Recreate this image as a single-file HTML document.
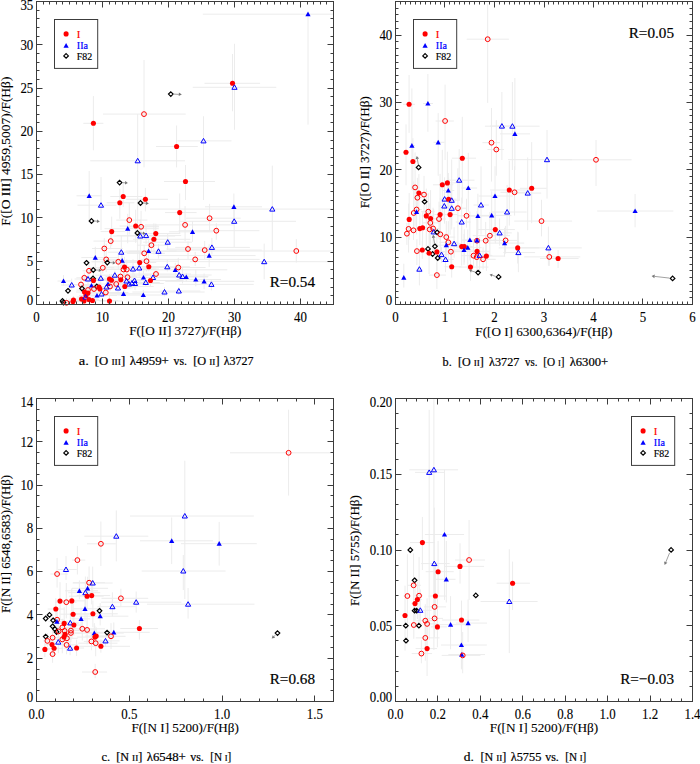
<!DOCTYPE html>
<html><head><meta charset="utf-8"><style>
html,body{margin:0;padding:0;background:#fff;}
body{width:700px;height:764px;overflow:hidden;}
svg{display:block;font-family:"Liberation Serif",serif;}
.tl{font-size:14px;fill:#000;stroke:#000;stroke-width:0.12px;}
.ti{font-size:13.3px;fill:#000;stroke:#000;stroke-width:0.12px;}
.rl{font-size:15.2px;fill:#000;stroke:#000;stroke-width:0.2px;}
.lg{font-size:10.8px;fill:#000;stroke:#000;stroke-width:0.2px;}
.cp{font-size:12px;fill:#000;stroke:#000;stroke-width:0.2px;}
</style></head><body>
<svg width="700" height="764" viewBox="0 0 700 764">
<rect width="700" height="764" fill="#fff"/>
<clipPath id="cpa"><rect x="36.5" y="1.5" width="297.0" height="303.0"/></clipPath>
<path clip-path="url(#cpa)" d="M202.8 14.2H333.0M308.0 14.0V124.7M204.5 83.3H260.1M232.5 54.0V111.3M192.7 87.3H276.3M234.5 43.8V129.8M103.0 114.1H185.7M144.0 60.0V167.4M83.3 123.3H103.4M93.4 96.1V150.3M156.0 146.5H197.8M176.6 125.5V167.4M177.5 140.9H231.5M203.5 116.3V200.0M90.2 160.8H185.0M137.7 114.0V262.0M164.0 181.5H215.0M185.5 165.0V200.0M76.5 195.8H101.5M89.2 171.0V220.0M110.3 196.5H142.3M123.2 182.9V206.9M126.1 199.3H168.0M145.4 187.9V211.4M106.6 202.8H134.4M119.8 188.7V218.8M77.5 205.2H116.5M101.0 177.0V230.0M205.0 206.8H262.0M233.9 193.5V222.0M150.0 209.1H333.0M272.3 165.6V250.3M165.0 212.6H196.6M179.7 193.4V233.9M186.1 218.2H240.7M209.6 203.9V230.8M116.2 220.1H147.4M129.3 202.9V234.5M180.0 221.3H296.0M234.2 204.6V247.0M145.0 224.9H234.0M185.1 206.1V241.2M119.6 226.0H158.7M135.7 209.7V242.9M128.5 226.8H159.0M141.1 210.8V243.7M104.5 228.7H158.8M127.7 213.8V243.3M100.6 231.6H125.1M111.7 216.6V245.6M178.6 230.7H259.4M216.3 223.3V239.8M169.1 231.8H213.0M192.5 221.0V241.9M113.2 236.0H175.1M140.3 219.6V254.4M116.6 235.6H181.2M146.1 226.7V244.0M137.5 233.6H180.2M155.8 223.6V241.9M133.1 239.3H190.2M153.9 223.3V254.4M93.5 241.1H137.0M110.7 231.8V249.3M136.9 245.2H167.6M151.4 237.8V251.6M143.2 242.2H191.9M167.7 233.8V250.0M175.2 247.4H249.9M211.9 237.9V254.4M166.4 249.0H208.0M188.0 241.4V259.2M92.0 248.5H122.8M104.3 238.1V257.7M168.6 250.1H261.8M204.7 241.0V259.1M200.0 251.0H333.0M296.3 239.1V262.5M125.8 251.0H176.7M148.6 239.9V261.2M129.1 251.3H188.1M158.5 244.0V258.6M107.8 252.2H141.9M121.3 235.9V266.9M126.8 253.3H164.9M144.2 245.1V261.6M157.4 255.6H255.6M209.2 244.3V266.9M81.3 257.6H117.6M95.3 246.8V269.4M140.6 259.4H259.7M195.2 251.8V266.0M97.4 259.4H120.5M106.2 243.6V272.1M109.4 260.7H145.6M122.2 251.4V268.7M91.4 261.8H144.0M118.3 252.7V270.1M190.0 261.7H333.0M264.2 243.6V279.3M123.9 262.5H156.2M139.7 251.9V270.1M125.2 261.2H179.0M146.5 250.0V271.4M127.7 266.7H171.3M148.8 260.0V271.3M107.6 267.0H146.9M124.5 256.8V277.1M112.9 269.5H139.6M123.5 261.7V276.7M102.4 269.5H155.9M126.8 259.3V279.4M110.8 269.0H159.0M133.0 259.3V278.1M120.7 268.0H156.1M139.2 259.4V276.9M150.3 266.8H189.8M167.3 259.8V271.4M136.2 269.8H227.3M175.3 262.8V278.4M148.9 267.5H205.6M178.3 257.8V276.5M89.9 267.8H114.2M102.8 261.3V273.4M82.6 270.8H95.3M89.0 261.7V278.5M94.9 275.2H148.0M114.8 270.6V279.0M105.5 276.5H137.3M120.5 265.1V285.6M124.6 274.0H191.0M156.0 270.3V278.8M141.9 275.0H211.7M179.2 266.5V281.5M159.2 276.5H208.4M182.5 267.7V283.4M169.0 277.0H208.0M186.3 272.9V281.5M76.3 277.8H92.3M84.3 272.4V282.1M74.6 279.0H108.1M88.0 273.9V285.2M82.5 280.5H107.7M93.5 272.3V288.8M88.5 278.2H114.6M100.8 269.9V284.5M100.2 279.0H120.0M109.5 274.0V285.2M92.2 280.3H135.2M111.5 273.9V285.3M101.2 279.8H142.0M120.8 273.3V287.7M112.5 277.2H146.6M127.5 272.1V281.1M132.3 277.5H181.5M153.0 273.8V280.7M125.2 277.5H168.6M143.5 270.8V283.7M112.9 280.5H183.5M150.5 274.3V286.0M176.5 279.5H221.1M195.8 269.3V286.4M165.2 281.3H254.2M204.1 273.5V289.2M57.5 281.0H70.8M63.5 275.0V285.7M61.1 285.0H85.4M71.7 278.6V289.5M68.5 284.5H97.4M81.0 279.0V291.2M81.6 285.5H101.2M91.5 281.1V289.9M92.0 284.0H129.0M108.0 278.1V289.4M105.1 284.0H127.6M116.2 279.6V287.0M114.6 281.0H141.4M126.5 275.2V286.7M107.7 284.0H148.8M129.0 278.2V289.2M119.3 283.0H145.2M132.0 276.6V288.5M109.2 280.5H170.7M134.5 273.6V284.9M106.4 283.5H163.8M135.0 275.0V290.1M133.5 282.5H159.8M145.8 278.4V286.5M179.3 284.4H253.7M211.4 279.8V290.3M83.8 287.0H117.7M99.0 279.8V292.6M90.1 289.0H111.8M100.0 283.9V292.7M88.1 286.5H132.9M110.0 282.4V291.2M83.5 287.0H136.5M106.5 280.1V293.7M107.2 288.0H131.1M118.0 282.6V292.2M100.4 286.5H153.7M124.8 281.4V291.6M76.1 292.0H94.1M84.5 288.1V295.5M80.6 293.0H100.1M88.0 286.6V297.7M79.2 295.5H93.2M86.0 293.1V297.7M76.5 290.0H102.0M88.0 283.2V295.7M81.7 289.0H104.7M94.0 285.3V292.5M81.3 295.5H117.3M97.0 292.3V299.1M86.3 294.0H126.3M101.5 289.7V297.3M87.5 292.5H128.4M105.8 288.3V296.5M109.4 293.8H142.2M123.5 290.3V296.7M117.6 295.0H167.7M143.3 289.8V298.7M132.4 292.0H204.7M164.5 287.2V296.4M159.8 291.0H200.4M178.8 287.2V295.0M68.0 300.0H79.7M73.5 296.0V303.1M66.3 301.5H80.0M73.0 297.7V304.5M69.5 299.0H98.4M81.5 296.3V301.2M76.1 301.0H96.5M84.0 296.6V304.5M76.8 297.0H93.9M85.5 293.4V301.1M80.8 299.5H98.9M89.0 295.6V303.4M77.3 300.5H118.2M92.5 297.9V302.7M99.1 301.0H122.1M109.5 295.4V304.5M60.2 302.8H72.1M66.5 298.0V304.5" stroke="#ececec" stroke-width="1" fill="none"/>
<path d="M305.4 16.3L310.6 16.3L308.0 11.6Z" fill="#00f"/>
<circle cx="232.5" cy="83.3" r="2.55" fill="#f00"/>
<path d="M231.9 89.3L237.1 89.3L234.5 84.8Z" fill="none" stroke="#00f" stroke-width="1"/>
<path d="M170.8 91.8L173.1 94.1L170.8 96.4L168.5 94.1Z" fill="none" stroke="#000" stroke-width="1.2"/><path d="M173.8 94.1L178.8 94.4" fill="none" stroke="#8a8a8a" stroke-width="0.8"/><path d="M178.9 92.6L181.8 94.5L178.7 96.1Z" fill="#777"/>
<circle cx="144.0" cy="114.1" r="2.4" fill="none" stroke="#f00" stroke-width="1"/>
<circle cx="93.4" cy="123.3" r="2.55" fill="#f00"/>
<circle cx="176.6" cy="146.5" r="2.55" fill="#f00"/>
<path d="M200.9 142.9L206.1 142.9L203.5 138.4Z" fill="none" stroke="#00f" stroke-width="1"/>
<path d="M135.1 162.8L140.3 162.8L137.7 158.3Z" fill="none" stroke="#00f" stroke-width="1"/>
<path d="M119.6 180.3L121.9 182.6L119.6 184.9L117.3 182.6Z" fill="none" stroke="#000" stroke-width="1.2"/><path d="M122.4 182.6L125.1 182.8" fill="none" stroke="#8a8a8a" stroke-width="0.8"/><path d="M125.2 181.1L127.9 183.0L125.0 184.5Z" fill="#777"/>
<circle cx="185.5" cy="181.5" r="2.55" fill="#f00"/>
<path d="M86.6 197.9L91.8 197.9L89.2 193.2Z" fill="#00f"/>
<circle cx="123.2" cy="196.5" r="2.55" fill="#f00"/>
<circle cx="145.4" cy="199.3" r="2.55" fill="#f00"/>
<circle cx="119.8" cy="202.8" r="2.55" fill="#f00"/>
<path d="M140.5 200.7L142.8 203.0L140.5 205.3L138.2 203.0Z" fill="none" stroke="#000" stroke-width="1.2"/><path d="M143.3 203.0L146.0 203.2" fill="none" stroke="#8a8a8a" stroke-width="0.8"/><path d="M146.1 201.5L148.8 203.4L145.9 204.9Z" fill="#777"/>
<path d="M98.4 207.2L103.6 207.2L101.0 202.7Z" fill="none" stroke="#00f" stroke-width="1"/>
<path d="M231.3 208.9L236.5 208.9L233.9 204.2Z" fill="#00f"/>
<path d="M269.7 211.1L274.9 211.1L272.3 206.6Z" fill="none" stroke="#00f" stroke-width="1"/>
<circle cx="179.7" cy="212.6" r="2.55" fill="#f00"/>
<circle cx="209.6" cy="218.2" r="2.4" fill="none" stroke="#f00" stroke-width="1"/>
<circle cx="129.3" cy="220.1" r="2.4" fill="none" stroke="#f00" stroke-width="1"/>
<path d="M91.5 218.7L93.8 221.0L91.5 223.3L89.2 221.0Z" fill="none" stroke="#000" stroke-width="1.2"/><path d="M94.3 221.0L97.0 221.2" fill="none" stroke="#8a8a8a" stroke-width="0.8"/><path d="M97.1 219.5L99.8 221.4L96.9 222.9Z" fill="#777"/>
<path d="M231.6 223.3L236.8 223.3L234.2 218.8Z" fill="none" stroke="#00f" stroke-width="1"/>
<circle cx="185.1" cy="224.9" r="2.4" fill="none" stroke="#f00" stroke-width="1"/>
<circle cx="135.7" cy="226.0" r="2.55" fill="#f00"/>
<circle cx="141.1" cy="226.8" r="2.4" fill="none" stroke="#f00" stroke-width="1"/>
<path d="M125.1 230.8L130.3 230.8L127.7 226.1Z" fill="#00f"/>
<circle cx="111.7" cy="231.6" r="2.55" fill="#f00"/>
<circle cx="216.3" cy="230.7" r="2.4" fill="none" stroke="#f00" stroke-width="1"/>
<path d="M189.9 233.9L195.1 233.9L192.5 229.2Z" fill="#00f"/>
<path d="M137.4 230.7L139.7 233.0L137.4 235.3L135.1 233.0Z" fill="none" stroke="#000" stroke-width="1.2"/><path d="M140.2 233.0L142.9 233.2" fill="none" stroke="#8a8a8a" stroke-width="0.8"/><path d="M143.0 231.5L145.7 233.4L142.8 234.9Z" fill="#777"/>
<path d="M137.7 238.0L142.9 238.0L140.3 233.5Z" fill="none" stroke="#00f" stroke-width="1"/>
<path d="M143.5 237.6L148.7 237.6L146.1 233.1Z" fill="none" stroke="#00f" stroke-width="1"/>
<circle cx="155.8" cy="233.6" r="2.55" fill="#f00"/>
<circle cx="153.9" cy="239.3" r="2.55" fill="#f00"/>
<circle cx="110.7" cy="241.1" r="2.4" fill="none" stroke="#f00" stroke-width="1"/>
<circle cx="151.4" cy="245.2" r="2.4" fill="none" stroke="#f00" stroke-width="1"/>
<path d="M165.1 244.2L170.3 244.2L167.7 239.7Z" fill="none" stroke="#00f" stroke-width="1"/>
<path d="M209.3 249.4L214.5 249.4L211.9 244.9Z" fill="none" stroke="#00f" stroke-width="1"/>
<circle cx="188.0" cy="249.0" r="2.4" fill="none" stroke="#f00" stroke-width="1"/>
<circle cx="104.3" cy="248.5" r="2.4" fill="none" stroke="#f00" stroke-width="1"/>
<circle cx="204.7" cy="250.1" r="2.4" fill="none" stroke="#f00" stroke-width="1"/>
<circle cx="296.3" cy="251.0" r="2.4" fill="none" stroke="#f00" stroke-width="1"/>
<path d="M146.0 253.1L151.2 253.1L148.6 248.4Z" fill="#00f"/>
<path d="M155.9 253.3L161.1 253.3L158.5 248.8Z" fill="none" stroke="#00f" stroke-width="1"/>
<path d="M118.7 254.2L123.9 254.2L121.3 249.7Z" fill="none" stroke="#00f" stroke-width="1"/>
<circle cx="144.2" cy="253.3" r="2.4" fill="none" stroke="#f00" stroke-width="1"/>
<path d="M206.6 257.7L211.8 257.7L209.2 253.0Z" fill="#00f"/>
<path d="M92.7 259.7L97.9 259.7L95.3 255.0Z" fill="#00f"/>
<circle cx="195.2" cy="259.4" r="2.4" fill="none" stroke="#f00" stroke-width="1"/>
<circle cx="106.2" cy="259.4" r="2.4" fill="none" stroke="#f00" stroke-width="1"/>
<path d="M119.6 262.8L124.8 262.8L122.2 258.1Z" fill="#00f"/>
<circle cx="118.3" cy="261.8" r="2.4" fill="none" stroke="#f00" stroke-width="1"/>
<path d="M261.6 263.7L266.8 263.7L264.2 259.2Z" fill="none" stroke="#00f" stroke-width="1"/>
<path d="M86.5 260.5L88.8 262.8L86.5 265.1L84.2 262.8Z" fill="none" stroke="#000" stroke-width="1.2"/>
<path d="M107.3 260.3L109.6 262.6L107.3 264.9L105.0 262.6Z" fill="none" stroke="#000" stroke-width="1.2"/><path d="M110.1 262.6L112.8 262.8" fill="none" stroke="#8a8a8a" stroke-width="0.8"/><path d="M112.9 261.1L115.6 263.0L112.7 264.5Z" fill="#777"/>
<circle cx="139.7" cy="262.5" r="2.55" fill="#f00"/>
<circle cx="146.5" cy="261.2" r="2.4" fill="none" stroke="#f00" stroke-width="1"/>
<circle cx="148.8" cy="266.7" r="2.55" fill="#f00"/>
<circle cx="124.5" cy="267.0" r="2.55" fill="#f00"/>
<circle cx="123.5" cy="269.5" r="2.4" fill="none" stroke="#f00" stroke-width="1"/>
<circle cx="126.8" cy="269.5" r="2.4" fill="none" stroke="#f00" stroke-width="1"/>
<path d="M130.4 271.0L135.6 271.0L133.0 266.5Z" fill="none" stroke="#00f" stroke-width="1"/>
<path d="M136.6 270.0L141.8 270.0L139.2 265.5Z" fill="none" stroke="#00f" stroke-width="1"/>
<path d="M164.7 268.8L169.9 268.8L167.3 264.3Z" fill="none" stroke="#00f" stroke-width="1"/>
<path d="M172.7 271.9L177.9 271.9L175.3 267.2Z" fill="#00f"/>
<circle cx="178.3" cy="267.5" r="2.4" fill="none" stroke="#f00" stroke-width="1"/>
<circle cx="102.8" cy="267.8" r="2.4" fill="none" stroke="#f00" stroke-width="1"/>
<circle cx="89.0" cy="270.8" r="2.4" fill="none" stroke="#f00" stroke-width="1"/>
<path d="M93.3 267.7L95.6 270.0L93.3 272.3L91.0 270.0Z" fill="none" stroke="#000" stroke-width="1.2"/><path d="M96.1 270.0L98.8 270.2" fill="none" stroke="#8a8a8a" stroke-width="0.8"/><path d="M98.9 268.5L101.6 270.4L98.7 271.9Z" fill="#777"/>
<path d="M112.2 277.2L117.4 277.2L114.8 272.7Z" fill="none" stroke="#00f" stroke-width="1"/>
<circle cx="120.5" cy="276.5" r="2.4" fill="none" stroke="#f00" stroke-width="1"/>
<circle cx="156.0" cy="274.0" r="2.4" fill="none" stroke="#f00" stroke-width="1"/>
<path d="M176.6 277.0L181.8 277.0L179.2 272.5Z" fill="none" stroke="#00f" stroke-width="1"/>
<path d="M179.9 278.5L185.1 278.5L182.5 274.0Z" fill="none" stroke="#00f" stroke-width="1"/>
<path d="M183.7 279.1L188.9 279.1L186.3 274.4Z" fill="#00f"/>
<circle cx="84.3" cy="277.8" r="2.4" fill="none" stroke="#f00" stroke-width="1"/>
<path d="M85.4 281.0L90.6 281.0L88.0 276.5Z" fill="none" stroke="#00f" stroke-width="1"/>
<path d="M93.0 276.2L95.3 278.5L93.0 280.8L90.7 278.5Z" fill="none" stroke="#000" stroke-width="1.2"/>
<circle cx="93.5" cy="280.5" r="2.55" fill="#f00"/>
<path d="M98.2 280.2L103.4 280.2L100.8 275.7Z" fill="none" stroke="#00f" stroke-width="1"/>
<circle cx="109.5" cy="279.0" r="2.55" fill="#f00"/>
<circle cx="111.5" cy="280.3" r="2.55" fill="#f00"/>
<circle cx="120.8" cy="279.8" r="2.55" fill="#f00"/>
<circle cx="127.5" cy="277.2" r="2.4" fill="none" stroke="#f00" stroke-width="1"/>
<path d="M150.4 279.5L155.6 279.5L153.0 275.0Z" fill="none" stroke="#00f" stroke-width="1"/>
<path d="M140.9 279.6L146.1 279.6L143.5 274.9Z" fill="#00f"/>
<circle cx="150.5" cy="280.5" r="2.55" fill="#f00"/>
<path d="M193.2 281.6L198.4 281.6L195.8 276.9Z" fill="#00f"/>
<path d="M201.5 283.4L206.7 283.4L204.1 278.7Z" fill="#00f"/>
<path d="M60.9 283.1L66.1 283.1L63.5 278.4Z" fill="#00f"/>
<path d="M69.1 287.0L74.3 287.0L71.7 282.5Z" fill="none" stroke="#00f" stroke-width="1"/>
<circle cx="81.0" cy="284.5" r="2.4" fill="none" stroke="#f00" stroke-width="1"/>
<path d="M88.9 287.6L94.1 287.6L91.5 282.9Z" fill="#00f"/>
<path d="M105.4 286.1L110.6 286.1L108.0 281.4Z" fill="#00f"/>
<circle cx="116.2" cy="284.0" r="2.4" fill="none" stroke="#f00" stroke-width="1"/>
<path d="M123.9 283.0L129.1 283.0L126.5 278.5Z" fill="none" stroke="#00f" stroke-width="1"/>
<path d="M126.4 286.0L131.6 286.0L129.0 281.5Z" fill="none" stroke="#00f" stroke-width="1"/>
<path d="M129.4 285.0L134.6 285.0L132.0 280.5Z" fill="none" stroke="#00f" stroke-width="1"/>
<path d="M131.9 282.5L137.1 282.5L134.5 278.0Z" fill="none" stroke="#00f" stroke-width="1"/>
<path d="M132.4 285.5L137.6 285.5L135.0 281.0Z" fill="none" stroke="#00f" stroke-width="1"/>
<path d="M143.2 284.5L148.4 284.5L145.8 280.0Z" fill="none" stroke="#00f" stroke-width="1"/>
<path d="M208.8 286.4L214.0 286.4L211.4 281.9Z" fill="none" stroke="#00f" stroke-width="1"/>
<path d="M82.0 286.2L84.3 288.5L82.0 290.8L79.7 288.5Z" fill="none" stroke="#000" stroke-width="1.2"/>
<path d="M96.8 284.2L99.1 286.5L96.8 288.8L94.5 286.5Z" fill="none" stroke="#000" stroke-width="1.2"/>
<circle cx="99.0" cy="287.0" r="2.55" fill="#f00"/>
<circle cx="100.0" cy="289.0" r="2.55" fill="#f00"/>
<circle cx="110.0" cy="286.5" r="2.4" fill="none" stroke="#f00" stroke-width="1"/>
<path d="M103.9 289.0L109.1 289.0L106.5 284.5Z" fill="none" stroke="#00f" stroke-width="1"/>
<path d="M115.4 290.0L120.6 290.0L118.0 285.5Z" fill="none" stroke="#00f" stroke-width="1"/>
<circle cx="124.8" cy="286.5" r="2.55" fill="#f00"/>
<path d="M68.0 288.5L70.3 290.8L68.0 293.1L65.7 290.8Z" fill="none" stroke="#000" stroke-width="1.2"/>
<circle cx="84.5" cy="292.0" r="2.55" fill="#f00"/>
<circle cx="88.0" cy="293.0" r="2.55" fill="#f00"/>
<circle cx="86.0" cy="295.5" r="2.55" fill="#f00"/>
<circle cx="88.0" cy="290.0" r="2.4" fill="none" stroke="#f00" stroke-width="1"/>
<circle cx="94.0" cy="289.0" r="2.4" fill="none" stroke="#f00" stroke-width="1"/>
<path d="M94.4 297.6L99.6 297.6L97.0 292.9Z" fill="#00f"/>
<path d="M98.9 296.0L104.1 296.0L101.5 291.5Z" fill="none" stroke="#00f" stroke-width="1"/>
<circle cx="105.8" cy="292.5" r="2.4" fill="none" stroke="#f00" stroke-width="1"/>
<path d="M120.9 295.9L126.1 295.9L123.5 291.2Z" fill="#00f"/>
<path d="M140.7 297.1L145.9 297.1L143.3 292.4Z" fill="#00f"/>
<path d="M161.9 294.0L167.1 294.0L164.5 289.5Z" fill="none" stroke="#00f" stroke-width="1"/>
<path d="M176.2 293.0L181.4 293.0L178.8 288.5Z" fill="none" stroke="#00f" stroke-width="1"/>
<circle cx="73.5" cy="300.0" r="2.55" fill="#f00"/>
<circle cx="73.0" cy="301.5" r="2.55" fill="#f00"/>
<circle cx="81.5" cy="299.0" r="2.55" fill="#f00"/>
<circle cx="84.0" cy="301.0" r="2.55" fill="#f00"/>
<path d="M82.9 299.0L88.1 299.0L85.5 294.5Z" fill="none" stroke="#00f" stroke-width="1"/>
<circle cx="89.0" cy="299.5" r="2.55" fill="#f00"/>
<circle cx="92.5" cy="300.5" r="2.55" fill="#f00"/>
<circle cx="109.5" cy="301.0" r="2.55" fill="#f00"/>
<path d="M62.5 298.7L64.8 301.0L62.5 303.3L60.2 301.0Z" fill="none" stroke="#000" stroke-width="1.2"/>
<path d="M63.5 300.2L65.8 302.5L63.5 304.8L61.2 302.5Z" fill="none" stroke="#000" stroke-width="1.2"/>
<circle cx="66.5" cy="302.8" r="2.4" fill="none" stroke="#f00" stroke-width="1"/>
<path d="M36.5 304.5v-6M36.5 1.5v6M43.5 304.5v-3M43.5 1.5v3M49.5 304.5v-3M49.5 1.5v3M56.5 304.5v-3M56.5 1.5v3M62.5 304.5v-3M62.5 1.5v3M69.5 304.5v-3M69.5 1.5v3M76.5 304.5v-3M76.5 1.5v3M82.5 304.5v-3M82.5 1.5v3M89.5 304.5v-3M89.5 1.5v3M95.5 304.5v-3M95.5 1.5v3M102.5 304.5v-6M102.5 1.5v6M109.5 304.5v-3M109.5 1.5v3M115.5 304.5v-3M115.5 1.5v3M122.5 304.5v-3M122.5 1.5v3M128.5 304.5v-3M128.5 1.5v3M135.5 304.5v-3M135.5 1.5v3M142.5 304.5v-3M142.5 1.5v3M148.5 304.5v-3M148.5 1.5v3M155.5 304.5v-3M155.5 1.5v3M161.5 304.5v-3M161.5 1.5v3M168.5 304.5v-6M168.5 1.5v6M175.5 304.5v-3M175.5 1.5v3M181.5 304.5v-3M181.5 1.5v3M188.5 304.5v-3M188.5 1.5v3M194.5 304.5v-3M194.5 1.5v3M201.5 304.5v-3M201.5 1.5v3M208.5 304.5v-3M208.5 1.5v3M214.5 304.5v-3M214.5 1.5v3M221.5 304.5v-3M221.5 1.5v3M227.5 304.5v-3M227.5 1.5v3M234.5 304.5v-6M234.5 1.5v6M241.5 304.5v-3M241.5 1.5v3M247.5 304.5v-3M247.5 1.5v3M254.5 304.5v-3M254.5 1.5v3M260.5 304.5v-3M260.5 1.5v3M267.5 304.5v-3M267.5 1.5v3M274.5 304.5v-3M274.5 1.5v3M280.5 304.5v-3M280.5 1.5v3M287.5 304.5v-3M287.5 1.5v3M293.5 304.5v-3M293.5 1.5v3M300.5 304.5v-6M300.5 1.5v6M307.5 304.5v-3M307.5 1.5v3M313.5 304.5v-3M313.5 1.5v3M320.5 304.5v-3M320.5 1.5v3M326.5 304.5v-3M326.5 1.5v3M333.5 304.5v-3M333.5 1.5v3M36.5 304.5h6M333.5 304.5h-6M36.5 295.5h3M333.5 295.5h-3M36.5 287.5h3M333.5 287.5h-3M36.5 278.5h3M333.5 278.5h-3M36.5 269.5h3M333.5 269.5h-3M36.5 261.5h6M333.5 261.5h-6M36.5 252.5h3M333.5 252.5h-3M36.5 243.5h3M333.5 243.5h-3M36.5 235.5h3M333.5 235.5h-3M36.5 226.5h3M333.5 226.5h-3M36.5 217.5h6M333.5 217.5h-6M36.5 209.5h3M333.5 209.5h-3M36.5 200.5h3M333.5 200.5h-3M36.5 191.5h3M333.5 191.5h-3M36.5 183.5h3M333.5 183.5h-3M36.5 174.5h6M333.5 174.5h-6M36.5 165.5h3M333.5 165.5h-3M36.5 157.5h3M333.5 157.5h-3M36.5 148.5h3M333.5 148.5h-3M36.5 140.5h3M333.5 140.5h-3M36.5 131.5h6M333.5 131.5h-6M36.5 122.5h3M333.5 122.5h-3M36.5 114.5h3M333.5 114.5h-3M36.5 105.5h3M333.5 105.5h-3M36.5 96.5h3M333.5 96.5h-3M36.5 88.5h6M333.5 88.5h-6M36.5 79.5h3M333.5 79.5h-3M36.5 70.5h3M333.5 70.5h-3M36.5 62.5h3M333.5 62.5h-3M36.5 53.5h3M333.5 53.5h-3M36.5 44.5h6M333.5 44.5h-6M36.5 36.5h3M333.5 36.5h-3M36.5 27.5h3M333.5 27.5h-3M36.5 18.5h3M333.5 18.5h-3M36.5 10.5h3M333.5 10.5h-3M36.5 1.5h6M333.5 1.5h-6" stroke="#3c3c3c" stroke-width="1" fill="none"/>
<rect x="36.5" y="1.5" width="297.0" height="303.0" fill="none" stroke="#3c3c3c" stroke-width="1"/>
<text x="36.5" y="321.5" class="tl" text-anchor="middle" textLength="6.44" lengthAdjust="spacingAndGlyphs">0</text>
<text x="102.5" y="321.5" class="tl" text-anchor="middle" textLength="12.88" lengthAdjust="spacingAndGlyphs">10</text>
<text x="168.5" y="321.5" class="tl" text-anchor="middle" textLength="12.88" lengthAdjust="spacingAndGlyphs">20</text>
<text x="234.5" y="321.5" class="tl" text-anchor="middle" textLength="12.88" lengthAdjust="spacingAndGlyphs">30</text>
<text x="300.5" y="321.5" class="tl" text-anchor="middle" textLength="12.88" lengthAdjust="spacingAndGlyphs">40</text>
<text x="33.3" y="304.5" class="tl" text-anchor="end" textLength="6.44" lengthAdjust="spacingAndGlyphs">0</text>
<text x="33.3" y="266.0" class="tl" text-anchor="end" textLength="6.44" lengthAdjust="spacingAndGlyphs">5</text>
<text x="33.3" y="222.7" class="tl" text-anchor="end" textLength="12.88" lengthAdjust="spacingAndGlyphs">10</text>
<text x="33.3" y="179.4" class="tl" text-anchor="end" textLength="12.88" lengthAdjust="spacingAndGlyphs">15</text>
<text x="33.3" y="136.2" class="tl" text-anchor="end" textLength="12.88" lengthAdjust="spacingAndGlyphs">20</text>
<text x="33.3" y="92.9" class="tl" text-anchor="end" textLength="12.88" lengthAdjust="spacingAndGlyphs">25</text>
<text x="33.3" y="49.6" class="tl" text-anchor="end" textLength="12.88" lengthAdjust="spacingAndGlyphs">30</text>
<text x="33.3" y="10.1" class="tl" text-anchor="end" textLength="12.88" lengthAdjust="spacingAndGlyphs">35</text>
<text x="185.3" y="335.3" class="ti" text-anchor="middle" textLength="112.2" lengthAdjust="spacingAndGlyphs">F([O II] 3727)/F(H&#946;)</text>
<text transform="translate(9.9,151.2) rotate(-90)" class="ti" text-anchor="middle" textLength="149.2" lengthAdjust="spacingAndGlyphs">F([O III] 4959,5007)/F(H&#946;)</text>
<text x="315" y="287" class="rl" text-anchor="end">R=0.54</text>
<rect x="54.5" y="19.5" width="43.2" height="48.9" fill="#fff" stroke="#3c3c3c" stroke-width="1"/>
<circle cx="66.1" cy="33.9" r="2.55" fill="#f00"/>
<path d="M63.5 47.7L68.7 47.7L66.1 43.0Z" fill="#00f"/>
<path d="M66.1 53.6L68.4 55.9L66.1 58.2L63.8 55.9Z" fill="none" stroke="#000" stroke-width="1.2"/>
<text x="76.8" y="38.3" class="lg" style="fill:#f00;stroke:#f00">I</text>
<text x="76.8" y="49.2" class="lg" style="fill:#00f;stroke:#00f" textLength="11.2" lengthAdjust="spacingAndGlyphs">IIa</text>
<text x="76.8" y="60.2" class="lg" textLength="15.4" lengthAdjust="spacingAndGlyphs">F82</text>
<clipPath id="cpb"><rect x="395.5" y="1.5" width="297.0" height="303.0"/></clipPath>
<path clip-path="url(#cpb)" d="M466.7 39.2H508.9M487.7 4.3V102.9M403.0 104.3H415.0M409.1 75.0V132.9M423.0 103.5H433.0M427.9 74.0V131.8M435.6 121.0H453.9M445.1 84.6V160.0M490.0 126.1H515.0M501.9 92.0V160.0M484.9 126.2H539.6M512.4 82.0V170.0M500.0 133.9H530.0M514.9 78.0V170.0M433.5 142.3H444.5M438.2 113.1V175.8M409.8 145.7H415.0M411.9 88.4V190.0M482.4 142.7H499.9M491.5 108.0V181.6M487.5 149.5H504.1M496.3 120.1V175.7M402.9 152.2H409.1M406.0 124.4V185.3M409.8 161.5H416.6M412.9 138.2V190.7M451.8 158.2H476.0M462.3 116.8V203.5M508.0 159.7H572.0M547.0 130.0V198.6M560.0 159.8H631.6M596.0 140.0V186.0M447.1 180.2H474.5M459.2 149.1V200.7M433.0 184.8H453.3M442.3 149.8V215.9M441.5 182.9H456.6M447.4 151.7V208.1M461.2 188.0H477.2M468.3 152.8V211.8M443.0 190.5H454.3M448.3 173.0V207.5M490.2 190.0H531.9M509.3 160.8V225.6M500.4 192.3H528.5M514.6 166.1V215.6M519.9 188.3H546.5M531.7 142.1V223.2M511.9 193.1H541.2M527.7 157.4V230.2M478.7 196.0H512.8M495.0 166.3V233.0M411.1 187.4H419.4M415.1 152.4V226.6M413.6 193.1H424.3M418.9 174.1V208.3M420.3 194.6H427.7M424.0 175.9V213.9M413.7 197.7H423.2M417.4 177.8V211.8M439.6 199.1H449.4M444.6 177.3V223.7M440.4 199.2H456.5M448.6 177.3V217.2M444.6 200.3H459.6M451.7 159.5V229.5M473.5 205.0H488.9M481.0 166.4V234.6M438.9 206.0H451.8M444.3 192.3V221.6M445.1 208.3H460.6M451.7 181.1V225.6M450.1 208.2H466.8M457.9 168.3V245.2M597.2 211.0H673.4M635.1 194.0V227.3M413.2 209.5H421.8M416.6 189.5V229.1M411.3 213.0H417.2M413.7 181.5V234.5M413.9 211.8H419.5M416.6 191.3V234.4M421.1 211.7H434.6M428.3 193.1V224.0M491.8 212.0H526.6M507.1 184.9V234.8M467.2 216.0H494.8M477.9 193.7V233.8M477.4 215.4H511.4M491.7 191.3V236.9M457.2 215.8H475.5M466.5 198.8V227.6M421.6 215.9H433.3M426.3 188.6V246.9M426.5 218.5H436.0M430.6 190.1V253.8M434.4 214.6H449.2M440.1 173.9V239.8M442.3 214.6H457.6M450.1 184.7V234.7M406.8 219.4H412.4M409.2 193.0V239.7M433.9 219.0H446.0M439.0 201.7V239.2M455.8 222.0H470.8M461.7 197.6V244.2M514.2 221.1H572.1M541.5 199.8V236.4M422.3 222.9H439.1M430.3 203.1V245.6M406.7 228.9H411.4M408.6 203.6V252.5M411.1 230.3H417.1M413.5 219.9V239.9M403.9 233.7H409.6M406.9 223.0V244.9M416.9 228.6H423.4M419.8 213.3V245.1M418.8 227.7H426.9M422.6 212.3V245.2M423.5 229.4H436.1M429.7 203.3V252.2M427.4 228.5H439.9M433.1 207.7V253.0M430.4 231.9H437.3M433.7 209.2V246.3M434.2 234.3H449.2M440.3 210.1V257.3M437.7 237.1H455.2M446.3 221.0V251.2M477.8 229.6H514.9M495.3 212.4V243.4M490.6 232.9H511.8M499.6 218.5V245.7M472.8 235.7H510.0M489.9 212.0V255.0M476.9 240.7H500.0M485.7 221.9V259.5M461.2 240.0H479.0M469.9 211.5V260.5M467.7 240.7H488.6M477.0 211.2V262.7M462.8 240.3H496.9M477.0 216.1V259.7M492.9 240.4H517.0M505.6 225.9V253.7M487.7 243.1H524.2M504.6 227.8V256.7M439.2 242.3H458.5M448.3 221.1V261.6M435.2 245.2H460.8M446.3 232.6V256.9M447.9 243.7H461.5M454.1 227.2V257.6M418.4 250.0H426.1M422.3 240.6V258.8M414.4 251.1H419.6M416.9 239.2V265.0M424.8 253.2H435.2M429.1 233.1V274.0M432.1 251.9H444.7M436.9 236.1V271.3M436.1 254.6H448.9M441.5 247.2V262.9M438.3 259.5H453.7M445.5 241.6V272.2M439.3 251.7H464.3M450.9 241.1V263.7M455.1 246.6H469.5M461.7 225.8V265.6M454.3 246.6H472.7M464.3 229.3V262.4M449.4 250.0H477.9M464.0 234.1V264.8M456.2 247.7H481.7M467.8 229.5V269.6M461.5 255.7H490.7M473.5 239.0V267.8M467.4 251.4H489.3M477.1 230.7V271.3M469.3 257.1H486.5M476.7 247.8V266.0M472.3 255.4H492.4M479.6 237.0V274.1M469.1 256.1H505.1M486.4 235.1V270.9M474.5 259.3H495.7M483.1 247.2V269.4M498.7 247.9H539.3M517.7 231.7V263.6M503.3 252.6H535.1M518.4 232.3V272.2M521.5 247.9H581.8M548.4 226.6V265.8M524.2 256.9H580.3M549.3 245.1V265.9M540.0 258.5H578.6M558.1 250.0V268.0M444.4 266.8H461.7M451.7 250.5V277.6M458.8 267.1H488.4M470.5 255.0V280.8M416.4 269.2H422.3M419.4 251.0V285.4M428.9 275.1H445.9M436.9 262.8V288.9M402.0 277.7H405.4M403.8 263.7V287.6" stroke="#ececec" stroke-width="1" fill="none"/>
<circle cx="487.7" cy="39.2" r="2.4" fill="none" stroke="#f00" stroke-width="1"/>
<circle cx="409.1" cy="104.3" r="2.55" fill="#f00"/>
<path d="M425.3 105.6L430.5 105.6L427.9 100.9Z" fill="#00f"/>
<circle cx="445.1" cy="121.0" r="2.4" fill="none" stroke="#f00" stroke-width="1"/>
<path d="M499.3 128.1L504.5 128.1L501.9 123.6Z" fill="none" stroke="#00f" stroke-width="1"/>
<path d="M509.8 128.2L515.0 128.2L512.4 123.7Z" fill="none" stroke="#00f" stroke-width="1"/>
<path d="M512.3 136.0L517.5 136.0L514.9 131.3Z" fill="#00f"/>
<path d="M435.6 144.4L440.8 144.4L438.2 139.7Z" fill="#00f"/>
<path d="M409.3 147.8L414.5 147.8L411.9 143.1Z" fill="#00f"/>
<circle cx="491.5" cy="142.7" r="2.4" fill="none" stroke="#f00" stroke-width="1"/>
<circle cx="496.3" cy="149.5" r="2.4" fill="none" stroke="#f00" stroke-width="1"/>
<circle cx="406.0" cy="152.2" r="2.55" fill="#f00"/>
<circle cx="412.9" cy="161.5" r="2.55" fill="#f00"/>
<path d="M418.6 165.1L420.9 167.4L418.6 169.7L416.3 167.4Z" fill="none" stroke="#000" stroke-width="1.2"/><path d="M418.3 164.4L417.3 158.9" fill="none" stroke="#8a8a8a" stroke-width="0.8"/><path d="M415.5 159.2L416.8 155.9L419.1 158.5Z" fill="#777"/>
<circle cx="462.3" cy="158.2" r="2.55" fill="#f00"/>
<path d="M544.4 161.7L549.6 161.7L547.0 157.2Z" fill="none" stroke="#00f" stroke-width="1"/>
<circle cx="596.0" cy="159.8" r="2.4" fill="none" stroke="#f00" stroke-width="1"/>
<path d="M456.6 182.2L461.8 182.2L459.2 177.7Z" fill="none" stroke="#00f" stroke-width="1"/>
<circle cx="442.3" cy="184.8" r="2.55" fill="#f00"/>
<circle cx="447.4" cy="182.9" r="2.55" fill="#f00"/>
<path d="M465.7 190.1L470.9 190.1L468.3 185.4Z" fill="#00f"/>
<path d="M445.7 192.6L450.9 192.6L448.3 187.9Z" fill="#00f"/>
<circle cx="509.3" cy="190.0" r="2.55" fill="#f00"/>
<circle cx="514.6" cy="192.3" r="2.4" fill="none" stroke="#f00" stroke-width="1"/>
<circle cx="531.7" cy="188.3" r="2.55" fill="#f00"/>
<path d="M525.1 195.1L530.3 195.1L527.7 190.6Z" fill="none" stroke="#00f" stroke-width="1"/>
<path d="M492.4 198.1L497.6 198.1L495.0 193.4Z" fill="#00f"/>
<circle cx="415.1" cy="187.4" r="2.4" fill="none" stroke="#f00" stroke-width="1"/>
<circle cx="418.9" cy="193.1" r="2.55" fill="#f00"/>
<circle cx="424.0" cy="194.6" r="2.4" fill="none" stroke="#f00" stroke-width="1"/>
<circle cx="417.4" cy="197.7" r="2.4" fill="none" stroke="#f00" stroke-width="1"/>
<path d="M424.6 199.4L426.9 201.7L424.6 204.0L422.3 201.7Z" fill="none" stroke="#000" stroke-width="1.2"/>
<path d="M442.0 201.1L447.2 201.1L444.6 196.6Z" fill="none" stroke="#00f" stroke-width="1"/>
<circle cx="448.6" cy="199.2" r="2.55" fill="#f00"/>
<path d="M449.1 202.3L454.3 202.3L451.7 197.8Z" fill="none" stroke="#00f" stroke-width="1"/>
<path d="M478.4 207.0L483.6 207.0L481.0 202.5Z" fill="none" stroke="#00f" stroke-width="1"/>
<path d="M441.7 208.0L446.9 208.0L444.3 203.5Z" fill="none" stroke="#00f" stroke-width="1"/>
<path d="M449.1 210.3L454.3 210.3L451.7 205.8Z" fill="none" stroke="#00f" stroke-width="1"/>
<circle cx="457.9" cy="208.2" r="2.4" fill="none" stroke="#f00" stroke-width="1"/>
<path d="M632.5 213.1L637.7 213.1L635.1 208.4Z" fill="#00f"/>
<circle cx="416.6" cy="209.5" r="2.4" fill="none" stroke="#f00" stroke-width="1"/>
<circle cx="413.7" cy="213.0" r="2.4" fill="none" stroke="#f00" stroke-width="1"/>
<path d="M414.0 213.9L419.2 213.9L416.6 209.2Z" fill="#00f"/>
<circle cx="428.3" cy="211.7" r="2.4" fill="none" stroke="#f00" stroke-width="1"/>
<path d="M504.5 214.0L509.7 214.0L507.1 209.5Z" fill="none" stroke="#00f" stroke-width="1"/>
<path d="M475.3 218.1L480.5 218.1L477.9 213.4Z" fill="#00f"/>
<path d="M489.1 217.5L494.3 217.5L491.7 212.8Z" fill="#00f"/>
<circle cx="466.5" cy="215.8" r="2.4" fill="none" stroke="#f00" stroke-width="1"/>
<circle cx="426.3" cy="215.9" r="2.55" fill="#f00"/>
<circle cx="430.6" cy="218.5" r="2.55" fill="#f00"/>
<circle cx="440.1" cy="214.6" r="2.55" fill="#f00"/>
<circle cx="450.1" cy="214.6" r="2.55" fill="#f00"/>
<circle cx="409.2" cy="219.4" r="2.55" fill="#f00"/>
<circle cx="439.0" cy="219.0" r="2.4" fill="none" stroke="#f00" stroke-width="1"/>
<path d="M459.1 224.0L464.3 224.0L461.7 219.5Z" fill="none" stroke="#00f" stroke-width="1"/>
<circle cx="541.5" cy="221.1" r="2.4" fill="none" stroke="#f00" stroke-width="1"/>
<circle cx="430.3" cy="222.9" r="2.4" fill="none" stroke="#f00" stroke-width="1"/>
<circle cx="408.6" cy="228.9" r="2.4" fill="none" stroke="#f00" stroke-width="1"/>
<circle cx="413.5" cy="230.3" r="2.4" fill="none" stroke="#f00" stroke-width="1"/>
<circle cx="406.9" cy="233.7" r="2.4" fill="none" stroke="#f00" stroke-width="1"/>
<circle cx="419.8" cy="228.6" r="2.55" fill="#f00"/>
<circle cx="422.6" cy="227.7" r="2.55" fill="#f00"/>
<circle cx="429.7" cy="229.4" r="2.4" fill="none" stroke="#f00" stroke-width="1"/>
<circle cx="433.1" cy="228.5" r="2.4" fill="none" stroke="#f00" stroke-width="1"/>
<path d="M431.1 233.9L436.3 233.9L433.7 229.4Z" fill="none" stroke="#00f" stroke-width="1"/>
<path d="M437.1 230.0L439.4 232.3L437.1 234.6L434.8 232.3Z" fill="none" stroke="#000" stroke-width="1.2"/>
<circle cx="440.3" cy="234.3" r="2.4" fill="none" stroke="#f00" stroke-width="1"/>
<circle cx="446.3" cy="237.1" r="2.4" fill="none" stroke="#f00" stroke-width="1"/>
<circle cx="495.3" cy="229.6" r="2.55" fill="#f00"/>
<path d="M497.0 234.9L502.2 234.9L499.6 230.4Z" fill="none" stroke="#00f" stroke-width="1"/>
<circle cx="489.9" cy="235.7" r="2.4" fill="none" stroke="#f00" stroke-width="1"/>
<circle cx="485.7" cy="240.7" r="2.4" fill="none" stroke="#f00" stroke-width="1"/>
<path d="M467.3 242.1L472.5 242.1L469.9 237.4Z" fill="#00f"/>
<circle cx="477.0" cy="240.7" r="2.4" fill="none" stroke="#f00" stroke-width="1"/>
<path d="M474.4 242.4L479.6 242.4L477.0 237.7Z" fill="#00f"/>
<circle cx="505.6" cy="240.4" r="2.4" fill="none" stroke="#f00" stroke-width="1"/>
<path d="M502.0 245.2L507.2 245.2L504.6 240.5Z" fill="#00f"/>
<circle cx="448.3" cy="242.3" r="2.4" fill="none" stroke="#f00" stroke-width="1"/>
<path d="M443.7 247.3L448.9 247.3L446.3 242.6Z" fill="#00f"/>
<path d="M451.5 245.7L456.7 245.7L454.1 241.2Z" fill="none" stroke="#00f" stroke-width="1"/>
<path d="M434.9 244.0L437.2 246.3L434.9 248.6L432.6 246.3Z" fill="none" stroke="#000" stroke-width="1.2"/><path d="M434.6 243.3L433.6 237.8" fill="none" stroke="#8a8a8a" stroke-width="0.8"/><path d="M431.8 238.1L433.1 234.8L435.4 237.4Z" fill="#777"/>
<path d="M428.0 246.6L430.3 248.9L428.0 251.2L425.7 248.9Z" fill="none" stroke="#000" stroke-width="1.2"/>
<path d="M432.6 251.7L434.9 254.0L432.6 256.3L430.3 254.0Z" fill="none" stroke="#000" stroke-width="1.2"/>
<path d="M437.7 255.7L440.0 258.0L437.7 260.3L435.4 258.0Z" fill="none" stroke="#000" stroke-width="1.2"/>
<circle cx="422.3" cy="250.0" r="2.55" fill="#f00"/>
<circle cx="416.9" cy="251.1" r="2.4" fill="none" stroke="#f00" stroke-width="1"/>
<circle cx="429.1" cy="253.2" r="2.55" fill="#f00"/>
<circle cx="436.9" cy="251.9" r="2.55" fill="#f00"/>
<path d="M438.9 256.6L444.1 256.6L441.5 252.1Z" fill="none" stroke="#00f" stroke-width="1"/>
<path d="M442.9 261.5L448.1 261.5L445.5 257.0Z" fill="none" stroke="#00f" stroke-width="1"/>
<circle cx="450.9" cy="251.7" r="2.4" fill="none" stroke="#f00" stroke-width="1"/>
<circle cx="461.7" cy="246.6" r="2.55" fill="#f00"/>
<circle cx="464.3" cy="246.6" r="2.55" fill="#f00"/>
<path d="M461.4 252.1L466.6 252.1L464.0 247.4Z" fill="#00f"/>
<path d="M465.2 249.8L470.4 249.8L467.8 245.1Z" fill="#00f"/>
<circle cx="473.5" cy="255.7" r="2.4" fill="none" stroke="#f00" stroke-width="1"/>
<circle cx="477.1" cy="251.4" r="2.55" fill="#f00"/>
<circle cx="476.7" cy="257.1" r="2.4" fill="none" stroke="#f00" stroke-width="1"/>
<path d="M477.0 257.4L482.2 257.4L479.6 252.9Z" fill="none" stroke="#00f" stroke-width="1"/>
<circle cx="486.4" cy="256.1" r="2.55" fill="#f00"/>
<circle cx="483.1" cy="259.3" r="2.4" fill="none" stroke="#f00" stroke-width="1"/>
<circle cx="517.7" cy="247.9" r="2.55" fill="#f00"/>
<path d="M515.8 254.6L521.0 254.6L518.4 250.1Z" fill="none" stroke="#00f" stroke-width="1"/>
<path d="M545.8 249.9L551.0 249.9L548.4 245.4Z" fill="none" stroke="#00f" stroke-width="1"/>
<circle cx="549.3" cy="256.9" r="2.4" fill="none" stroke="#f00" stroke-width="1"/>
<circle cx="558.1" cy="258.5" r="2.55" fill="#f00"/>
<circle cx="451.7" cy="266.8" r="2.55" fill="#f00"/>
<circle cx="470.5" cy="267.1" r="2.55" fill="#f00"/>
<path d="M478.1 270.3L480.4 272.6L478.1 274.9L475.8 272.6Z" fill="none" stroke="#000" stroke-width="1.2"/><path d="M475.1 272.1L471.6 270.9" fill="none" stroke="#8a8a8a" stroke-width="0.8"/><path d="M471.1 272.4L469.1 270.1L472.1 269.4Z" fill="#777"/>
<path d="M498.6 274.6L500.9 276.9L498.6 279.2L496.3 276.9Z" fill="none" stroke="#000" stroke-width="1.2"/><path d="M495.6 276.4L492.1 275.2" fill="none" stroke="#8a8a8a" stroke-width="0.8"/><path d="M491.6 276.7L489.6 274.4L492.6 273.7Z" fill="#777"/>
<path d="M416.8 271.2L422.0 271.2L419.4 266.7Z" fill="none" stroke="#00f" stroke-width="1"/>
<circle cx="436.9" cy="275.1" r="2.4" fill="none" stroke="#f00" stroke-width="1"/>
<path d="M401.2 279.8L406.4 279.8L403.8 275.1Z" fill="#00f"/>
<path d="M672.6 276.1L674.9 278.4L672.6 280.7L670.3 278.4Z" fill="none" stroke="#000" stroke-width="1.2"/><path d="M669.6 278.1L654.6 276.4" fill="none" stroke="#8a8a8a" stroke-width="0.8"/><path d="M654.4 278.2L651.6 276.1L654.8 274.6Z" fill="#777"/>
<path d="M395.5 304.5v-6M395.5 1.5v6M400.5 304.5v-3M400.5 1.5v3M405.5 304.5v-3M405.5 1.5v3M410.5 304.5v-3M410.5 1.5v3M415.5 304.5v-3M415.5 1.5v3M420.5 304.5v-3M420.5 1.5v3M425.5 304.5v-3M425.5 1.5v3M430.5 304.5v-3M430.5 1.5v3M435.5 304.5v-3M435.5 1.5v3M440.5 304.5v-3M440.5 1.5v3M444.5 304.5v-6M444.5 1.5v6M449.5 304.5v-3M449.5 1.5v3M454.5 304.5v-3M454.5 1.5v3M459.5 304.5v-3M459.5 1.5v3M464.5 304.5v-3M464.5 1.5v3M469.5 304.5v-3M469.5 1.5v3M474.5 304.5v-3M474.5 1.5v3M479.5 304.5v-3M479.5 1.5v3M484.5 304.5v-3M484.5 1.5v3M489.5 304.5v-3M489.5 1.5v3M494.5 304.5v-6M494.5 1.5v6M499.5 304.5v-3M499.5 1.5v3M504.5 304.5v-3M504.5 1.5v3M509.5 304.5v-3M509.5 1.5v3M514.5 304.5v-3M514.5 1.5v3M519.5 304.5v-3M519.5 1.5v3M524.5 304.5v-3M524.5 1.5v3M529.5 304.5v-3M529.5 1.5v3M534.5 304.5v-3M534.5 1.5v3M539.5 304.5v-3M539.5 1.5v3M544.5 304.5v-6M544.5 1.5v6M548.5 304.5v-3M548.5 1.5v3M553.5 304.5v-3M553.5 1.5v3M558.5 304.5v-3M558.5 1.5v3M563.5 304.5v-3M563.5 1.5v3M568.5 304.5v-3M568.5 1.5v3M573.5 304.5v-3M573.5 1.5v3M578.5 304.5v-3M578.5 1.5v3M583.5 304.5v-3M583.5 1.5v3M588.5 304.5v-3M588.5 1.5v3M593.5 304.5v-6M593.5 1.5v6M598.5 304.5v-3M598.5 1.5v3M603.5 304.5v-3M603.5 1.5v3M608.5 304.5v-3M608.5 1.5v3M613.5 304.5v-3M613.5 1.5v3M618.5 304.5v-3M618.5 1.5v3M623.5 304.5v-3M623.5 1.5v3M628.5 304.5v-3M628.5 1.5v3M633.5 304.5v-3M633.5 1.5v3M638.5 304.5v-3M638.5 1.5v3M642.5 304.5v-6M642.5 1.5v6M647.5 304.5v-3M647.5 1.5v3M652.5 304.5v-3M652.5 1.5v3M657.5 304.5v-3M657.5 1.5v3M662.5 304.5v-3M662.5 1.5v3M667.5 304.5v-3M667.5 1.5v3M672.5 304.5v-3M672.5 1.5v3M677.5 304.5v-3M677.5 1.5v3M682.5 304.5v-3M682.5 1.5v3M687.5 304.5v-3M687.5 1.5v3M692.5 304.5v-6M692.5 1.5v6M395.5 304.5h6M692.5 304.5h-6M395.5 297.5h3M692.5 297.5h-3M395.5 291.5h3M692.5 291.5h-3M395.5 284.5h3M692.5 284.5h-3M395.5 277.5h3M692.5 277.5h-3M395.5 270.5h3M692.5 270.5h-3M395.5 264.5h3M692.5 264.5h-3M395.5 257.5h3M692.5 257.5h-3M395.5 250.5h3M692.5 250.5h-3M395.5 243.5h3M692.5 243.5h-3M395.5 237.5h6M692.5 237.5h-6M395.5 230.5h3M692.5 230.5h-3M395.5 223.5h3M692.5 223.5h-3M395.5 216.5h3M692.5 216.5h-3M395.5 210.5h3M692.5 210.5h-3M395.5 203.5h3M692.5 203.5h-3M395.5 196.5h3M692.5 196.5h-3M395.5 190.5h3M692.5 190.5h-3M395.5 183.5h3M692.5 183.5h-3M395.5 176.5h3M692.5 176.5h-3M395.5 169.5h6M692.5 169.5h-6M395.5 163.5h3M692.5 163.5h-3M395.5 156.5h3M692.5 156.5h-3M395.5 149.5h3M692.5 149.5h-3M395.5 142.5h3M692.5 142.5h-3M395.5 136.5h3M692.5 136.5h-3M395.5 129.5h3M692.5 129.5h-3M395.5 122.5h3M692.5 122.5h-3M395.5 115.5h3M692.5 115.5h-3M395.5 109.5h3M692.5 109.5h-3M395.5 102.5h6M692.5 102.5h-6M395.5 95.5h3M692.5 95.5h-3M395.5 89.5h3M692.5 89.5h-3M395.5 82.5h3M692.5 82.5h-3M395.5 75.5h3M692.5 75.5h-3M395.5 68.5h3M692.5 68.5h-3M395.5 62.5h3M692.5 62.5h-3M395.5 55.5h3M692.5 55.5h-3M395.5 48.5h3M692.5 48.5h-3M395.5 41.5h3M692.5 41.5h-3M395.5 35.5h6M692.5 35.5h-6M395.5 28.5h3M692.5 28.5h-3M395.5 21.5h3M692.5 21.5h-3M395.5 14.5h3M692.5 14.5h-3M395.5 8.5h3M692.5 8.5h-3M395.5 1.5h3M692.5 1.5h-3" stroke="#3c3c3c" stroke-width="1" fill="none"/>
<rect x="395.5" y="1.5" width="297.0" height="303.0" fill="none" stroke="#3c3c3c" stroke-width="1"/>
<text x="395.5" y="321.5" class="tl" text-anchor="middle" textLength="6.44" lengthAdjust="spacingAndGlyphs">0</text>
<text x="445.0" y="321.5" class="tl" text-anchor="middle" textLength="6.44" lengthAdjust="spacingAndGlyphs">1</text>
<text x="494.5" y="321.5" class="tl" text-anchor="middle" textLength="6.44" lengthAdjust="spacingAndGlyphs">2</text>
<text x="544.0" y="321.5" class="tl" text-anchor="middle" textLength="6.44" lengthAdjust="spacingAndGlyphs">3</text>
<text x="593.5" y="321.5" class="tl" text-anchor="middle" textLength="6.44" lengthAdjust="spacingAndGlyphs">4</text>
<text x="643.0" y="321.5" class="tl" text-anchor="middle" textLength="6.44" lengthAdjust="spacingAndGlyphs">5</text>
<text x="692.5" y="321.5" class="tl" text-anchor="middle" textLength="6.44" lengthAdjust="spacingAndGlyphs">6</text>
<text x="392.3" y="304.5" class="tl" text-anchor="end" textLength="6.44" lengthAdjust="spacingAndGlyphs">0</text>
<text x="392.3" y="242.0" class="tl" text-anchor="end" textLength="12.88" lengthAdjust="spacingAndGlyphs">10</text>
<text x="392.3" y="174.6" class="tl" text-anchor="end" textLength="12.88" lengthAdjust="spacingAndGlyphs">20</text>
<text x="392.3" y="107.3" class="tl" text-anchor="end" textLength="12.88" lengthAdjust="spacingAndGlyphs">30</text>
<text x="392.3" y="40.0" class="tl" text-anchor="end" textLength="12.88" lengthAdjust="spacingAndGlyphs">40</text>
<text x="543.9" y="335.7" class="ti" text-anchor="middle" textLength="137.1" lengthAdjust="spacingAndGlyphs">F([O I] 6300,6364)/F(H&#946;)</text>
<text transform="translate(369.3,152.2) rotate(-90)" class="ti" text-anchor="middle" textLength="112.1" lengthAdjust="spacingAndGlyphs">F([O II] 3727)/F(H&#946;)</text>
<text x="674" y="37.5" class="rl" text-anchor="end">R=0.05</text>
<rect x="413.5" y="19.5" width="43.2" height="48.9" fill="#fff" stroke="#3c3c3c" stroke-width="1"/>
<circle cx="425.1" cy="33.9" r="2.55" fill="#f00"/>
<path d="M422.5 47.7L427.7 47.7L425.1 43.0Z" fill="#00f"/>
<path d="M425.1 53.6L427.4 55.9L425.1 58.2L422.8 55.9Z" fill="none" stroke="#000" stroke-width="1.2"/>
<text x="435.8" y="38.3" class="lg" style="fill:#f00;stroke:#f00">I</text>
<text x="435.8" y="49.2" class="lg" style="fill:#00f;stroke:#00f" textLength="11.2" lengthAdjust="spacingAndGlyphs">IIa</text>
<text x="435.8" y="60.2" class="lg" textLength="15.4" lengthAdjust="spacingAndGlyphs">F82</text>
<clipPath id="cpc"><rect x="36.5" y="398.5" width="297.0" height="303.0"/></clipPath>
<path clip-path="url(#cpc)" d="M230.0 452.8H331.0M288.6 409.7V495.6M130.0 516.0H253.9M184.8 460.7V599.0M84.3 536.2H148.3M116.3 510.4V561.4M140.0 540.8H213.0M171.7 517.5V564.1M181.0 543.7H256.8M219.2 521.9V565.6M87.0 543.8H115.9M100.9 521.5V566.0M71.9 560.1H85.3M77.4 545.9V574.5M58.1 569.5H76.8M66.0 556.1V579.9M50.4 574.0H67.8M57.1 557.9V587.6M141.7 571.0H225.6M183.3 555.0V590.0M73.0 582.7H105.0M89.1 566.5V598.4M72.7 583.0H112.7M92.7 566.6V595.2M65.1 590.8H98.0M79.4 580.4V599.2M72.0 588.3H108.1M87.6 576.7V599.7M68.2 592.7H100.3M85.4 576.5V608.0M68.9 596.2H103.6M87.1 586.8V608.8M76.7 595.6H110.2M91.7 583.9V604.4M55.8 601.1H67.0M60.0 582.2V619.4M55.4 602.2H76.6M66.3 583.0V618.4M59.5 600.9H85.0M71.8 588.3V611.6M101.5 598.3H148.2M120.9 588.7V607.1M101.1 602.2H181.4M136.2 591.5V612.6M97.3 606.7H135.8M112.4 592.3V616.4M147.0 604.2H254.5M188.1 588.0V618.6M47.7 609.0H64.6M55.8 598.1V617.0M73.4 608.8H100.4M85.0 595.5V621.5M60.3 614.2H89.5M73.1 603.7V624.6M72.2 613.8H117.8M92.9 600.6V627.2M79.4 616.2H128.4M100.2 603.2V625.4M51.3 619.7H63.7M57.1 612.2V626.8M48.3 621.7H68.0M56.9 608.7V633.9M71.3 618.8H90.1M81.1 607.6V627.9M54.8 623.4H78.2M64.2 607.2V636.9M63.4 622.9H79.1M70.3 612.7V633.2M68.6 625.0H82.6M73.9 614.6V635.8M55.0 627.4H72.9M62.3 618.8V633.8M58.0 630.9H72.2M64.6 624.2V636.7M61.3 630.6H87.2M70.9 622.6V637.3M60.6 633.0H82.1M70.9 622.7V642.2M64.9 628.8H105.0M82.3 618.1V640.5M78.3 629.9H97.1M87.1 614.9V644.4M60.6 634.3H72.5M65.1 624.8V641.3M52.5 631.4H64.5M58.6 619.5V640.4M47.3 637.7H60.4M52.6 625.7V648.0M42.9 640.9H52.6M47.4 633.1V646.7M53.9 639.4H71.4M62.3 626.6V653.3M58.2 638.3H77.7M66.9 628.3V646.0M57.1 637.0H73.1M64.0 629.2V646.9M50.8 642.1H70.0M58.3 629.3V653.2M45.4 644.6H61.1M52.0 638.5V651.5M46.4 648.3H62.9M54.1 641.6V654.4M41.9 649.4H49.9M44.9 638.6V657.1M57.4 644.9H77.8M66.6 632.3V654.3M63.6 648.2H78.7M70.1 640.8V655.2M69.4 648.0H84.1M76.6 639.7V656.0M49.0 654.1H56.0M52.6 647.7V662.8M75.1 633.1H123.7M94.3 623.1V644.2M76.9 637.1H113.9M94.9 625.7V647.1M85.2 636.0H108.0M96.2 627.3V643.9M83.8 641.4H104.6M91.4 632.8V650.2M78.3 643.2H117.5M95.7 632.8V656.3M77.7 646.3H130.0M100.9 639.3V652.7M84.6 632.3H149.8M113.8 622.4V638.3M97.1 636.3H125.6M111.0 623.2V649.0M95.5 640.9H119.6M105.5 634.2V647.0M120.3 628.5H158.1M139.4 620.1V639.6M82.0 672.0H107.1M95.2 663.8V678.2" stroke="#ececec" stroke-width="1" fill="none"/>
<circle cx="288.6" cy="452.8" r="2.4" fill="none" stroke="#f00" stroke-width="1"/>
<path d="M182.2 518.0L187.4 518.0L184.8 513.5Z" fill="none" stroke="#00f" stroke-width="1"/>
<path d="M113.7 538.2L118.9 538.2L116.3 533.7Z" fill="none" stroke="#00f" stroke-width="1"/>
<path d="M169.1 542.9L174.3 542.9L171.7 538.2Z" fill="#00f"/>
<path d="M216.6 545.8L221.8 545.8L219.2 541.1Z" fill="#00f"/>
<circle cx="100.9" cy="543.8" r="2.4" fill="none" stroke="#f00" stroke-width="1"/>
<circle cx="77.4" cy="560.1" r="2.4" fill="none" stroke="#f00" stroke-width="1"/>
<path d="M63.4 571.5L68.6 571.5L66.0 567.0Z" fill="none" stroke="#00f" stroke-width="1"/>
<circle cx="57.1" cy="574.0" r="2.4" fill="none" stroke="#f00" stroke-width="1"/>
<path d="M180.7 573.0L185.9 573.0L183.3 568.5Z" fill="none" stroke="#00f" stroke-width="1"/>
<circle cx="89.1" cy="582.7" r="2.4" fill="none" stroke="#f00" stroke-width="1"/>
<path d="M90.1 585.0L95.3 585.0L92.7 580.5Z" fill="none" stroke="#00f" stroke-width="1"/>
<path d="M76.8 592.9L82.0 592.9L79.4 588.2Z" fill="#00f"/>
<path d="M85.0 590.4L90.2 590.4L87.6 585.7Z" fill="#00f"/>
<path d="M82.8 594.7L88.0 594.7L85.4 590.2Z" fill="none" stroke="#00f" stroke-width="1"/>
<circle cx="87.1" cy="596.2" r="2.55" fill="#f00"/>
<circle cx="91.7" cy="595.6" r="2.55" fill="#f00"/>
<circle cx="60.0" cy="601.1" r="2.55" fill="#f00"/>
<circle cx="66.3" cy="602.2" r="2.4" fill="none" stroke="#f00" stroke-width="1"/>
<circle cx="71.8" cy="600.9" r="2.55" fill="#f00"/>
<circle cx="120.9" cy="598.3" r="2.4" fill="none" stroke="#f00" stroke-width="1"/>
<path d="M133.6 604.2L138.8 604.2L136.2 599.7Z" fill="none" stroke="#00f" stroke-width="1"/>
<path d="M109.8 608.7L115.0 608.7L112.4 604.2Z" fill="none" stroke="#00f" stroke-width="1"/>
<path d="M185.5 606.2L190.7 606.2L188.1 601.7Z" fill="none" stroke="#00f" stroke-width="1"/>
<circle cx="55.8" cy="609.0" r="2.55" fill="#f00"/>
<path d="M82.4 610.9L87.6 610.9L85.0 606.2Z" fill="#00f"/>
<circle cx="73.1" cy="614.2" r="2.55" fill="#f00"/>
<circle cx="92.9" cy="613.8" r="2.55" fill="#f00"/>
<path d="M99.5 608.5L101.8 610.8L99.5 613.1L97.2 610.8Z" fill="none" stroke="#000" stroke-width="1.2"/>
<path d="M97.6 618.3L102.8 618.3L100.2 613.6Z" fill="#00f"/>
<path d="M49.5 612.6L51.8 614.9L49.5 617.2L47.2 614.9Z" fill="none" stroke="#000" stroke-width="1.2"/>
<path d="M45.7 616.2L48.0 618.5L45.7 620.8L43.4 618.5Z" fill="none" stroke="#000" stroke-width="1.2"/>
<circle cx="57.1" cy="619.7" r="2.4" fill="none" stroke="#f00" stroke-width="1"/>
<path d="M54.3 623.8L59.5 623.8L56.9 619.1Z" fill="#00f"/>
<path d="M53.1 618.0L55.4 620.3L53.1 622.6L50.8 620.3Z" fill="none" stroke="#000" stroke-width="1.2"/>
<path d="M78.5 620.9L83.7 620.9L81.1 616.2Z" fill="#00f"/>
<circle cx="64.2" cy="623.4" r="2.55" fill="#f00"/>
<path d="M67.7 624.9L72.9 624.9L70.3 620.4Z" fill="none" stroke="#00f" stroke-width="1"/>
<circle cx="73.9" cy="625.0" r="2.55" fill="#f00"/>
<path d="M52.6 624.0L54.9 626.3L52.6 628.6L50.3 626.3Z" fill="none" stroke="#000" stroke-width="1.2"/>
<path d="M54.9 626.8L57.2 629.1L54.9 631.4L52.6 629.1Z" fill="none" stroke="#000" stroke-width="1.2"/>
<path d="M56.6 629.7L58.9 632.0L56.6 634.3L54.3 632.0Z" fill="none" stroke="#000" stroke-width="1.2"/>
<circle cx="62.3" cy="627.4" r="2.4" fill="none" stroke="#f00" stroke-width="1"/>
<circle cx="64.6" cy="630.9" r="2.4" fill="none" stroke="#f00" stroke-width="1"/>
<circle cx="70.9" cy="630.6" r="2.4" fill="none" stroke="#f00" stroke-width="1"/>
<circle cx="70.9" cy="633.0" r="2.4" fill="none" stroke="#f00" stroke-width="1"/>
<circle cx="82.3" cy="628.8" r="2.4" fill="none" stroke="#f00" stroke-width="1"/>
<circle cx="87.1" cy="629.9" r="2.4" fill="none" stroke="#f00" stroke-width="1"/>
<circle cx="65.1" cy="634.3" r="2.55" fill="#f00"/>
<circle cx="58.6" cy="631.4" r="2.4" fill="none" stroke="#f00" stroke-width="1"/>
<path d="M45.7 634.3L48.0 636.6L45.7 638.9L43.4 636.6Z" fill="none" stroke="#000" stroke-width="1.2"/>
<circle cx="52.6" cy="637.7" r="2.4" fill="none" stroke="#f00" stroke-width="1"/>
<circle cx="47.4" cy="640.9" r="2.4" fill="none" stroke="#f00" stroke-width="1"/>
<circle cx="62.3" cy="639.4" r="2.4" fill="none" stroke="#f00" stroke-width="1"/>
<circle cx="66.9" cy="638.3" r="2.4" fill="none" stroke="#f00" stroke-width="1"/>
<circle cx="64.0" cy="637.0" r="2.55" fill="#f00"/>
<path d="M55.7 644.1L60.9 644.1L58.3 639.6Z" fill="none" stroke="#00f" stroke-width="1"/>
<circle cx="52.0" cy="644.6" r="2.55" fill="#f00"/>
<circle cx="54.1" cy="648.3" r="2.55" fill="#f00"/>
<circle cx="44.9" cy="649.4" r="2.55" fill="#f00"/>
<circle cx="66.6" cy="644.9" r="2.4" fill="none" stroke="#f00" stroke-width="1"/>
<path d="M67.5 650.2L72.7 650.2L70.1 645.7Z" fill="none" stroke="#00f" stroke-width="1"/>
<circle cx="76.6" cy="648.0" r="2.55" fill="#f00"/>
<circle cx="52.6" cy="654.1" r="2.4" fill="none" stroke="#f00" stroke-width="1"/>
<path d="M91.7 635.2L96.9 635.2L94.3 630.5Z" fill="#00f"/>
<circle cx="94.9" cy="637.1" r="2.55" fill="#f00"/>
<circle cx="96.2" cy="636.0" r="2.55" fill="#f00"/>
<circle cx="91.4" cy="641.4" r="2.4" fill="none" stroke="#f00" stroke-width="1"/>
<circle cx="95.7" cy="643.2" r="2.4" fill="none" stroke="#f00" stroke-width="1"/>
<circle cx="100.9" cy="646.3" r="2.55" fill="#f00"/>
<path d="M107.1 630.3L109.4 632.6L107.1 634.9L104.8 632.6Z" fill="none" stroke="#000" stroke-width="1.2"/>
<path d="M111.2 634.4L116.4 634.4L113.8 629.7Z" fill="#00f"/>
<circle cx="111.0" cy="636.3" r="2.4" fill="none" stroke="#f00" stroke-width="1"/>
<path d="M102.9 642.9L108.1 642.9L105.5 638.4Z" fill="none" stroke="#00f" stroke-width="1"/>
<circle cx="139.4" cy="628.5" r="2.55" fill="#f00"/>
<circle cx="95.2" cy="672.0" r="2.4" fill="none" stroke="#f00" stroke-width="1"/>
<path d="M277.5 630.8L279.8 633.1L277.5 635.4L275.2 633.1Z" fill="none" stroke="#000" stroke-width="1.2"/><path d="M275.5 635.1L273.9 636.5" fill="none" stroke="#8a8a8a" stroke-width="0.8"/><path d="M275.1 637.8L271.7 638.5L272.7 635.2Z" fill="#777"/>
<path d="M36.5 701.5v-6M36.5 398.5v6M55.5 701.5v-3M55.5 398.5v3M73.5 701.5v-3M73.5 398.5v3M92.5 701.5v-3M92.5 398.5v3M110.5 701.5v-3M110.5 398.5v3M129.5 701.5v-6M129.5 398.5v6M147.5 701.5v-3M147.5 398.5v3M166.5 701.5v-3M166.5 398.5v3M184.5 701.5v-3M184.5 398.5v3M203.5 701.5v-3M203.5 398.5v3M222.5 701.5v-6M222.5 398.5v6M240.5 701.5v-3M240.5 398.5v3M259.5 701.5v-3M259.5 398.5v3M277.5 701.5v-3M277.5 398.5v3M296.5 701.5v-3M296.5 398.5v3M314.5 701.5v-6M314.5 398.5v6M333.5 701.5v-3M333.5 398.5v3M36.5 701.5h6M333.5 701.5h-6M36.5 690.5h3M333.5 690.5h-3M36.5 679.5h3M333.5 679.5h-3M36.5 669.5h3M333.5 669.5h-3M36.5 658.5h6M333.5 658.5h-6M36.5 647.5h3M333.5 647.5h-3M36.5 636.5h3M333.5 636.5h-3M36.5 625.5h3M333.5 625.5h-3M36.5 614.5h6M333.5 614.5h-6M36.5 604.5h3M333.5 604.5h-3M36.5 593.5h3M333.5 593.5h-3M36.5 582.5h3M333.5 582.5h-3M36.5 571.5h6M333.5 571.5h-6M36.5 560.5h3M333.5 560.5h-3M36.5 550.5h3M333.5 550.5h-3M36.5 539.5h3M333.5 539.5h-3M36.5 528.5h6M333.5 528.5h-6M36.5 517.5h3M333.5 517.5h-3M36.5 506.5h3M333.5 506.5h-3M36.5 495.5h3M333.5 495.5h-3M36.5 485.5h6M333.5 485.5h-6M36.5 474.5h3M333.5 474.5h-3M36.5 463.5h3M333.5 463.5h-3M36.5 452.5h3M333.5 452.5h-3M36.5 441.5h6M333.5 441.5h-6M36.5 430.5h3M333.5 430.5h-3M36.5 420.5h3M333.5 420.5h-3M36.5 409.5h3M333.5 409.5h-3M36.5 398.5h6M333.5 398.5h-6" stroke="#3c3c3c" stroke-width="1" fill="none"/>
<rect x="36.5" y="398.5" width="297.0" height="303.0" fill="none" stroke="#3c3c3c" stroke-width="1"/>
<text x="36.5" y="718.5" class="tl" text-anchor="middle" textLength="16.10" lengthAdjust="spacingAndGlyphs">0.0</text>
<text x="129.3" y="718.5" class="tl" text-anchor="middle" textLength="16.10" lengthAdjust="spacingAndGlyphs">0.5</text>
<text x="222.1" y="718.5" class="tl" text-anchor="middle" textLength="16.10" lengthAdjust="spacingAndGlyphs">1.0</text>
<text x="314.9" y="718.5" class="tl" text-anchor="middle" textLength="16.10" lengthAdjust="spacingAndGlyphs">1.5</text>
<text x="33.3" y="701.5" class="tl" text-anchor="end" textLength="6.44" lengthAdjust="spacingAndGlyphs">0</text>
<text x="33.3" y="663.0" class="tl" text-anchor="end" textLength="6.44" lengthAdjust="spacingAndGlyphs">2</text>
<text x="33.3" y="619.7" class="tl" text-anchor="end" textLength="6.44" lengthAdjust="spacingAndGlyphs">4</text>
<text x="33.3" y="576.4" class="tl" text-anchor="end" textLength="6.44" lengthAdjust="spacingAndGlyphs">6</text>
<text x="33.3" y="533.2" class="tl" text-anchor="end" textLength="6.44" lengthAdjust="spacingAndGlyphs">8</text>
<text x="33.3" y="489.9" class="tl" text-anchor="end" textLength="12.88" lengthAdjust="spacingAndGlyphs">10</text>
<text x="33.3" y="446.6" class="tl" text-anchor="end" textLength="12.88" lengthAdjust="spacingAndGlyphs">12</text>
<text x="33.3" y="407.1" class="tl" text-anchor="end" textLength="12.88" lengthAdjust="spacingAndGlyphs">14</text>
<text x="185.2" y="731.5" class="ti" text-anchor="middle" textLength="107.3" lengthAdjust="spacingAndGlyphs">F([N I] 5200)/F(H&#946;)</text>
<text transform="translate(9.9,544.0) rotate(-90)" class="ti" text-anchor="middle" textLength="137.9" lengthAdjust="spacingAndGlyphs">F([N II] 6548,6583)/F(H&#946;)</text>
<text x="315" y="684.3" class="rl" text-anchor="end">R=0.68</text>
<rect x="54.5" y="416.5" width="43.2" height="48.9" fill="#fff" stroke="#3c3c3c" stroke-width="1"/>
<circle cx="66.1" cy="430.9" r="2.55" fill="#f00"/>
<path d="M63.5 444.7L68.7 444.7L66.1 440.0Z" fill="#00f"/>
<path d="M66.1 450.6L68.4 452.9L66.1 455.2L63.8 452.9Z" fill="none" stroke="#000" stroke-width="1.2"/>
<text x="76.8" y="435.3" class="lg" style="fill:#f00;stroke:#f00">I</text>
<text x="76.8" y="446.2" class="lg" style="fill:#00f;stroke:#00f" textLength="11.2" lengthAdjust="spacingAndGlyphs">IIa</text>
<text x="76.8" y="457.2" class="lg" textLength="15.4" lengthAdjust="spacingAndGlyphs">F82</text>
<clipPath id="cpd"><rect x="395.5" y="398.5" width="297.0" height="303.0"/></clipPath>
<path clip-path="url(#cpd)" d="M415.0 472.4H445.0M429.2 409.8V640.0M409.3 469.8H458.1M433.9 398.5V650.0M424.9 534.5H464.1M444.5 469.8V600.0M410.0 542.6H435.0M422.4 516.9V570.0M455.0 560.0H485.0M469.1 520.0V600.0M421.1 563.6H449.7M434.3 507.6V607.8M445.1 566.4H484.1M460.0 543.3V583.6M425.7 571.7H453.7M438.1 540.9V594.3M435.9 579.3H455.5M446.3 541.0V602.5M407.1 585.3H420.9M413.6 553.4V612.9M496.6 583.2H529.9M512.6 561.6V610.0M403.6 596.0H410.7M407.4 554.2V644.3M414.3 595.7H423.0M419.1 556.9V624.6M413.1 599.6H421.9M417.4 581.8V619.0M428.5 596.0H446.3M435.4 564.1V618.9M480.6 601.5H537.6M509.3 549.2V653.1M411.3 603.6H419.0M415.0 587.2V621.2M424.1 606.9H446.1M434.6 568.5V637.2M412.9 610.3H431.5M420.3 589.4V626.7M402.6 615.5H407.3M405.0 585.7V650.6M425.4 618.4H443.0M434.6 601.3V633.3M416.5 620.7H436.8M425.3 604.2V638.2M418.7 623.9H438.3M427.1 598.3V647.2M442.0 620.0H479.4M461.5 600.6V636.5M456.1 623.1H487.0M468.1 599.4V642.2M434.6 624.7H465.5M450.6 596.1V649.3M410.4 625.0H417.5M413.8 611.4V638.8M430.9 626.9H446.9M437.4 597.6V647.3M415.7 637.9H439.5M425.3 611.0V660.7M441.0 645.0H486.9M461.4 623.9V668.7M415.6 648.6H437.1M427.1 623.2V676.0M411.7 653.6H432.1M421.4 640.1V663.3M448.3 654.6H485.0M461.7 639.3V669.4M441.7 655.4H480.4M462.7 631.9V673.3" stroke="#ececec" stroke-width="1" fill="none"/>
<path d="M426.6 474.4L431.8 474.4L429.2 469.9Z" fill="none" stroke="#00f" stroke-width="1"/>
<path d="M431.3 471.8L436.5 471.8L433.9 467.3Z" fill="none" stroke="#00f" stroke-width="1"/>
<path d="M441.9 536.6L447.1 536.6L444.5 531.9Z" fill="#00f"/>
<circle cx="422.4" cy="542.6" r="2.55" fill="#f00"/>
<path d="M410.3 547.7L412.6 550.0L410.3 552.3L408.0 550.0Z" fill="none" stroke="#000" stroke-width="1.2"/>
<circle cx="469.1" cy="560.0" r="2.4" fill="none" stroke="#f00" stroke-width="1"/>
<path d="M431.7 565.6L436.9 565.6L434.3 561.1Z" fill="none" stroke="#00f" stroke-width="1"/>
<circle cx="460.0" cy="566.4" r="2.55" fill="#f00"/>
<circle cx="438.1" cy="571.7" r="2.55" fill="#f00"/>
<path d="M443.7 581.4L448.9 581.4L446.3 576.7Z" fill="#00f"/>
<path d="M414.6 578.0L416.9 580.3L414.6 582.6L412.3 580.3Z" fill="none" stroke="#000" stroke-width="1.2"/>
<circle cx="413.6" cy="585.3" r="2.4" fill="none" stroke="#f00" stroke-width="1"/>
<circle cx="512.6" cy="583.2" r="2.55" fill="#f00"/>
<circle cx="407.4" cy="596.0" r="2.4" fill="none" stroke="#f00" stroke-width="1"/>
<circle cx="419.1" cy="595.7" r="2.4" fill="none" stroke="#f00" stroke-width="1"/>
<circle cx="417.4" cy="599.6" r="2.55" fill="#f00"/>
<circle cx="435.4" cy="596.0" r="2.55" fill="#f00"/>
<path d="M475.8 593.1L478.1 595.4L475.8 597.7L473.5 595.4Z" fill="none" stroke="#000" stroke-width="1.2"/>
<path d="M506.7 603.5L511.9 603.5L509.3 599.0Z" fill="none" stroke="#00f" stroke-width="1"/>
<circle cx="415.0" cy="603.6" r="2.55" fill="#f00"/>
<circle cx="434.6" cy="606.9" r="2.4" fill="none" stroke="#f00" stroke-width="1"/>
<path d="M414.6 608.4L416.9 610.7L414.6 613.0L412.3 610.7Z" fill="none" stroke="#000" stroke-width="1.2"/>
<path d="M416.7 608.4L419.0 610.7L416.7 613.0L414.4 610.7Z" fill="none" stroke="#000" stroke-width="1.2"/>
<path d="M417.7 612.3L422.9 612.3L420.3 607.8Z" fill="none" stroke="#00f" stroke-width="1"/>
<circle cx="405.0" cy="615.5" r="2.55" fill="#f00"/>
<circle cx="434.6" cy="618.4" r="2.4" fill="none" stroke="#f00" stroke-width="1"/>
<circle cx="425.3" cy="620.7" r="2.4" fill="none" stroke="#f00" stroke-width="1"/>
<circle cx="427.1" cy="623.9" r="2.4" fill="none" stroke="#f00" stroke-width="1"/>
<circle cx="461.5" cy="620.0" r="2.55" fill="#f00"/>
<path d="M465.5 625.2L470.7 625.2L468.1 620.5Z" fill="#00f"/>
<path d="M448.0 626.8L453.2 626.8L450.6 622.1Z" fill="#00f"/>
<path d="M405.8 623.4L408.1 625.7L405.8 628.0L403.5 625.7Z" fill="none" stroke="#000" stroke-width="1.2"/>
<circle cx="413.8" cy="625.0" r="2.4" fill="none" stroke="#f00" stroke-width="1"/>
<path d="M418.9 623.4L421.2 625.7L418.9 628.0L416.6 625.7Z" fill="none" stroke="#000" stroke-width="1.2"/>
<circle cx="437.4" cy="626.9" r="2.55" fill="#f00"/>
<circle cx="425.3" cy="637.9" r="2.4" fill="none" stroke="#f00" stroke-width="1"/>
<path d="M406.0 638.4L408.3 640.7L406.0 643.0L403.7 640.7Z" fill="none" stroke="#000" stroke-width="1.2"/>
<path d="M458.8 647.1L464.0 647.1L461.4 642.4Z" fill="#00f"/>
<circle cx="427.1" cy="648.6" r="2.55" fill="#f00"/>
<circle cx="421.4" cy="653.6" r="2.4" fill="none" stroke="#f00" stroke-width="1"/>
<path d="M459.1 656.7L464.3 656.7L461.7 652.0Z" fill="#00f"/>
<circle cx="462.7" cy="655.4" r="2.4" fill="none" stroke="#f00" stroke-width="1"/>
<path d="M671.1 547.6L673.4 549.9L671.1 552.2L668.8 549.9Z" fill="none" stroke="#000" stroke-width="1.2"/><path d="M669.6 552.9L665.8 562.1" fill="none" stroke="#8a8a8a" stroke-width="0.8"/><path d="M667.4 562.8L664.6 564.9L664.1 561.4Z" fill="#777"/>
<path d="M395.5 701.5v-6M395.5 398.5v6M406.5 701.5v-3M406.5 398.5v3M416.5 701.5v-3M416.5 398.5v3M427.5 701.5v-3M427.5 398.5v3M437.5 701.5v-6M437.5 398.5v6M448.5 701.5v-3M448.5 398.5v3M459.5 701.5v-3M459.5 398.5v3M469.5 701.5v-3M469.5 398.5v3M480.5 701.5v-6M480.5 398.5v6M490.5 701.5v-3M490.5 398.5v3M501.5 701.5v-3M501.5 398.5v3M512.5 701.5v-3M512.5 398.5v3M522.5 701.5v-6M522.5 398.5v6M533.5 701.5v-3M533.5 398.5v3M544.5 701.5v-3M544.5 398.5v3M554.5 701.5v-3M554.5 398.5v3M565.5 701.5v-6M565.5 398.5v6M575.5 701.5v-3M575.5 398.5v3M586.5 701.5v-3M586.5 398.5v3M597.5 701.5v-3M597.5 398.5v3M607.5 701.5v-6M607.5 398.5v6M618.5 701.5v-3M618.5 398.5v3M628.5 701.5v-3M628.5 398.5v3M639.5 701.5v-3M639.5 398.5v3M650.5 701.5v-6M650.5 398.5v6M660.5 701.5v-3M660.5 398.5v3M671.5 701.5v-3M671.5 398.5v3M681.5 701.5v-3M681.5 398.5v3M692.5 701.5v-6M692.5 398.5v6M395.5 701.5h6M692.5 701.5h-6M395.5 686.5h3M692.5 686.5h-3M395.5 671.5h3M692.5 671.5h-3M395.5 656.5h3M692.5 656.5h-3M395.5 640.5h3M692.5 640.5h-3M395.5 625.5h6M692.5 625.5h-6M395.5 610.5h3M692.5 610.5h-3M395.5 595.5h3M692.5 595.5h-3M395.5 580.5h3M692.5 580.5h-3M395.5 565.5h3M692.5 565.5h-3M395.5 550.5h6M692.5 550.5h-6M395.5 534.5h3M692.5 534.5h-3M395.5 519.5h3M692.5 519.5h-3M395.5 504.5h3M692.5 504.5h-3M395.5 489.5h3M692.5 489.5h-3M395.5 474.5h6M692.5 474.5h-6M395.5 459.5h3M692.5 459.5h-3M395.5 443.5h3M692.5 443.5h-3M395.5 428.5h3M692.5 428.5h-3M395.5 413.5h3M692.5 413.5h-3M395.5 398.5h6M692.5 398.5h-6" stroke="#3c3c3c" stroke-width="1" fill="none"/>
<rect x="395.5" y="398.5" width="297.0" height="303.0" fill="none" stroke="#3c3c3c" stroke-width="1"/>
<text x="395.5" y="718.5" class="tl" text-anchor="middle" textLength="16.10" lengthAdjust="spacingAndGlyphs">0.0</text>
<text x="437.9" y="718.5" class="tl" text-anchor="middle" textLength="16.10" lengthAdjust="spacingAndGlyphs">0.2</text>
<text x="480.4" y="718.5" class="tl" text-anchor="middle" textLength="16.10" lengthAdjust="spacingAndGlyphs">0.4</text>
<text x="522.8" y="718.5" class="tl" text-anchor="middle" textLength="16.10" lengthAdjust="spacingAndGlyphs">0.6</text>
<text x="565.2" y="718.5" class="tl" text-anchor="middle" textLength="16.10" lengthAdjust="spacingAndGlyphs">0.8</text>
<text x="607.6" y="718.5" class="tl" text-anchor="middle" textLength="16.10" lengthAdjust="spacingAndGlyphs">1.0</text>
<text x="650.1" y="718.5" class="tl" text-anchor="middle" textLength="16.10" lengthAdjust="spacingAndGlyphs">1.2</text>
<text x="692.5" y="718.5" class="tl" text-anchor="middle" textLength="16.10" lengthAdjust="spacingAndGlyphs">1.4</text>
<text x="392.3" y="701.5" class="tl" text-anchor="end" textLength="22.54" lengthAdjust="spacingAndGlyphs">0.00</text>
<text x="392.3" y="630.5" class="tl" text-anchor="end" textLength="22.54" lengthAdjust="spacingAndGlyphs">0.05</text>
<text x="392.3" y="554.8" class="tl" text-anchor="end" textLength="22.54" lengthAdjust="spacingAndGlyphs">0.10</text>
<text x="392.3" y="479.1" class="tl" text-anchor="end" textLength="22.54" lengthAdjust="spacingAndGlyphs">0.15</text>
<text x="392.3" y="407.1" class="tl" text-anchor="end" textLength="22.54" lengthAdjust="spacingAndGlyphs">0.20</text>
<text x="544.0" y="732.0" class="ti" text-anchor="middle" textLength="108.5" lengthAdjust="spacingAndGlyphs">F([N I] 5200)/F(H&#946;)</text>
<text transform="translate(358.9,550.6) rotate(-90)" class="ti" text-anchor="middle" textLength="110.8" lengthAdjust="spacingAndGlyphs">F([N II] 5755)/F(H&#946;)</text>
<text x="674" y="684.3" class="rl" text-anchor="end">R=&#8722;0.03</text>
<rect x="631.5" y="416.5" width="43.2" height="48.9" fill="#fff" stroke="#3c3c3c" stroke-width="1"/>
<circle cx="643.1" cy="430.9" r="2.55" fill="#f00"/>
<path d="M640.5 444.7L645.7 444.7L643.1 440.0Z" fill="#00f"/>
<path d="M643.1 450.6L645.4 452.9L643.1 455.2L640.8 452.9Z" fill="none" stroke="#000" stroke-width="1.2"/>
<text x="653.8" y="435.3" class="lg" style="fill:#f00;stroke:#f00">I</text>
<text x="653.8" y="446.2" class="lg" style="fill:#00f;stroke:#00f" textLength="11.2" lengthAdjust="spacingAndGlyphs">IIa</text>
<text x="653.8" y="457.2" class="lg" textLength="15.4" lengthAdjust="spacingAndGlyphs">F82</text>
<text x="78.8" y="365.3" class="cp" style="font-size:11.6px" textLength="10.1" lengthAdjust="spacingAndGlyphs">a.</text>
<text x="94.8" y="365.3" class="cp" style="font-size:11.6px" textLength="30.5" lengthAdjust="spacingAndGlyphs">[O <tspan style="font-size:8.8px">III</tspan>]</text>
<text x="129.7" y="365.3" class="cp" style="font-size:11.6px" textLength="39.2" lengthAdjust="spacingAndGlyphs">&#955;4959+</text>
<text x="173.5" y="365.3" class="cp" style="font-size:11.6px" textLength="13.5" lengthAdjust="spacingAndGlyphs">vs.</text>
<text x="193.2" y="365.3" class="cp" style="font-size:11.6px" textLength="26.4" lengthAdjust="spacingAndGlyphs">[O <tspan style="font-size:8.8px">II</tspan>]</text>
<text x="223.7" y="365.3" class="cp" style="font-size:11.6px" textLength="29.8" lengthAdjust="spacingAndGlyphs">&#955;3727</text>
<text x="442.6" y="365.5" class="cp" style="font-size:11.6px" textLength="9.2" lengthAdjust="spacingAndGlyphs">b.</text>
<text x="458.0" y="365.5" class="cp" style="font-size:11.6px" textLength="25.9" lengthAdjust="spacingAndGlyphs">[O <tspan style="font-size:8.8px">II</tspan>]</text>
<text x="489.1" y="365.5" class="cp" style="font-size:11.6px" textLength="30.2" lengthAdjust="spacingAndGlyphs">&#955;3727</text>
<text x="525.1" y="365.5" class="cp" style="font-size:11.6px" textLength="12.4" lengthAdjust="spacingAndGlyphs">vs.</text>
<text x="543.3" y="365.5" class="cp" style="font-size:11.6px" textLength="21.2" lengthAdjust="spacingAndGlyphs">[O <tspan style="font-size:8.8px">I</tspan>]</text>
<text x="569.7" y="365.5" class="cp" style="font-size:11.6px" textLength="38.5" lengthAdjust="spacingAndGlyphs">&#955;6300+</text>
<text x="101.5" y="761.2" class="cp" style="font-size:11.6px" textLength="8.6" lengthAdjust="spacingAndGlyphs">c.</text>
<text x="116.2" y="761.2" class="cp" style="font-size:11.6px" textLength="26.1" lengthAdjust="spacingAndGlyphs">[N <tspan style="font-size:8.8px">II</tspan>]</text>
<text x="146.7" y="761.2" class="cp" style="font-size:11.6px" textLength="39.1" lengthAdjust="spacingAndGlyphs">&#955;6548+</text>
<text x="190.2" y="761.2" class="cp" style="font-size:11.6px" textLength="13.6" lengthAdjust="spacingAndGlyphs">vs.</text>
<text x="210.2" y="761.2" class="cp" style="font-size:11.6px" textLength="21.1" lengthAdjust="spacingAndGlyphs">[N <tspan style="font-size:8.8px">I</tspan>]</text>
<text x="463.7" y="761.2" class="cp" style="font-size:11.6px" textLength="10.1" lengthAdjust="spacingAndGlyphs">d.</text>
<text x="480.5" y="761.2" class="cp" style="font-size:11.6px" textLength="25.8" lengthAdjust="spacingAndGlyphs">[N <tspan style="font-size:8.8px">II</tspan>]</text>
<text x="510.7" y="761.2" class="cp" style="font-size:11.6px" textLength="30.6" lengthAdjust="spacingAndGlyphs">&#955;5755</text>
<text x="545.2" y="761.2" class="cp" style="font-size:11.6px" textLength="13.6" lengthAdjust="spacingAndGlyphs">vs.</text>
<text x="565.2" y="761.2" class="cp" style="font-size:11.6px" textLength="21.1" lengthAdjust="spacingAndGlyphs">[N <tspan style="font-size:8.8px">I</tspan>]</text>
</svg>
</body></html>
